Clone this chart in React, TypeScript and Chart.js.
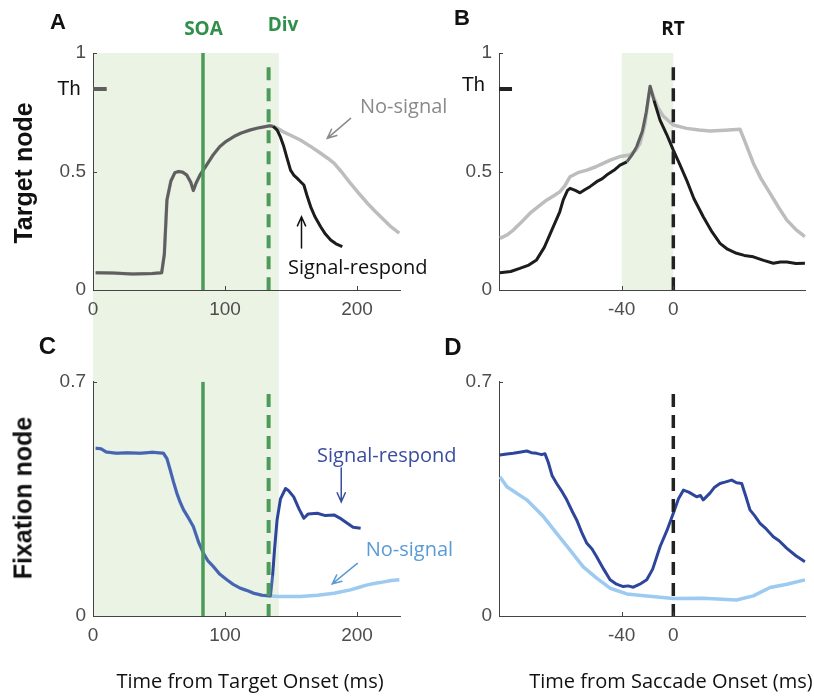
import React, { useEffect, useRef } from 'react';
import { Chart, registerables } from 'chart.js';

Chart.register(...registerables);

type Pt = [number, number];

// ---------- data ----------
// Panel A: target node, aligned on target onset (ms)
const aShared: Pt[] = [
  [2, 0.073], [15, 0.072], [30, 0.068], [45, 0.07], [52, 0.073], [54, 0.15], [56, 0.38], [59, 0.46],
  [62, 0.495], [65, 0.5], [68, 0.497], [71, 0.485], [74, 0.455], [76, 0.42], [78, 0.45], [81, 0.485],
  [86, 0.527], [91, 0.57], [96, 0.605], [101, 0.628], [106.5, 0.647], [112, 0.662], [119, 0.675],
  [126, 0.685], [131, 0.69], [134, 0.693], [136.5, 0.69],
];
const aSignalRespondAfter: Pt[] = [
  [139.5, 0.675], [142, 0.645], [144.5, 0.605], [147, 0.555], [149.6, 0.506], [152, 0.485], [154.7, 0.471],
  [157, 0.458], [159.7, 0.443], [162, 0.4], [164.8, 0.352], [168, 0.31], [172.4, 0.267], [176, 0.236],
  [180, 0.211], [184, 0.195], [188.8, 0.183],
];
const aNoSignalAfter: Pt[] = [
  [139.5, 0.683], [145, 0.665], [150, 0.652], [157, 0.633], [165, 0.605], [172.4, 0.577], [178, 0.555],
  [182.5, 0.535], [188, 0.5], [195, 0.45], [201, 0.41], [207.8, 0.366], [214, 0.33], [220.4, 0.295],
  [226, 0.265], [232, 0.24],
];
// Panel B: target node, aligned on saccade onset (ms)
const bNoSignal: Pt[] = [
  [-134.4, 0.218], [-129, 0.232], [-124, 0.253], [-118, 0.285], [-111, 0.324], [-104, 0.355], [-98, 0.38],
  [-92, 0.4], [-87.8, 0.415], [-84, 0.44], [-80, 0.478], [-74, 0.495], [-67, 0.506], [-60, 0.52],
  [-54, 0.535], [-48, 0.55], [-41.3, 0.563], [-33.6, 0.57], [-29, 0.59], [-25.8, 0.619], [-22, 0.7],
  [-18, 0.858], [-15, 0.81], [-12, 0.77], [-8, 0.735], [-4, 0.715], [0, 0.696], [10.3, 0.682], [20, 0.675],
  [28.4, 0.671], [40, 0.674], [51.7, 0.678], [56, 0.62], [62, 0.535], [68, 0.47], [75, 0.408], [82, 0.345],
  [88, 0.295], [95, 0.255], [102, 0.225],
];
const bSignalRespond: Pt[] = [
  [-134.4, 0.073], [-126, 0.078], [-119, 0.091], [-112, 0.105], [-106, 0.127], [-100, 0.18], [-93, 0.267],
  [-88, 0.33], [-85.3, 0.38], [-82, 0.42], [-80, 0.429], [-76, 0.42], [-72.3, 0.41], [-68, 0.425],
  [-64.6, 0.436], [-59.4, 0.457], [-55, 0.47], [-51.7, 0.485], [-46, 0.505], [-41.3, 0.527], [-36, 0.541],
  [-32, 0.57], [-28.4, 0.605], [-24, 0.67], [-21, 0.75], [-18, 0.86], [-15, 0.8], [-10.3, 0.717],
  [-5, 0.655], [0, 0.59], [5, 0.53], [10.3, 0.464], [16, 0.385], [23.2, 0.309], [30, 0.245], [36.2, 0.197],
  [42, 0.172], [49, 0.155], [55, 0.146], [62, 0.14], [70, 0.125], [77.5, 0.113], [83, 0.118], [88, 0.118],
  [95, 0.112], [102, 0.113],
];
// Panel C: fixation node, aligned on target onset (ms)
const cShared: Pt[] = [
  [2, 0.501], [6, 0.5], [10, 0.49], [18, 0.486], [26, 0.488], [35.7, 0.486], [45, 0.489], [53.4, 0.486],
  [56, 0.47], [58.5, 0.436], [61, 0.4], [63.5, 0.367], [66, 0.34], [68.6, 0.317], [72, 0.295], [76, 0.267],
  [80, 0.22], [83.7, 0.187], [87, 0.165], [91.3, 0.147], [96, 0.125], [101.5, 0.108], [106, 0.095],
  [111.6, 0.083], [116, 0.077], [121.7, 0.068], [128, 0.062], [134.4, 0.06],
];
const cSignalRespondAfter: Pt[] = [
  [136, 0.12], [137.5, 0.2], [139.4, 0.287], [142, 0.35], [145.8, 0.381], [148, 0.375], [152, 0.356],
  [156, 0.32], [159.7, 0.292], [163, 0.305], [169.8, 0.307], [176, 0.3], [182.5, 0.302], [188, 0.29],
  [192.6, 0.277], [197, 0.265], [202.7, 0.262],
];
const cNoSignalAfter: Pt[] = [
  [140, 0.058], [150, 0.058], [157, 0.058], [170, 0.062], [182.5, 0.068], [195, 0.078], [201, 0.085],
  [207.8, 0.093], [214, 0.098], [220.4, 0.102], [226, 0.106], [232, 0.108],
];
// Panel D: fixation node, aligned on saccade onset (ms)
const dSignalRespond: Pt[] = [
  [-134.4, 0.481], [-129, 0.484], [-124, 0.486], [-118, 0.49], [-113.6, 0.493], [-110, 0.488], [-106, 0.486],
  [-102, 0.482], [-99.5, 0.485], [-97, 0.46], [-94, 0.42], [-90.4, 0.396], [-86, 0.37], [-82.6, 0.347],
  [-78, 0.31], [-74.9, 0.287], [-71, 0.25], [-67, 0.217], [-63, 0.2], [-59.4, 0.177], [-54, 0.14],
  [-49, 0.108], [-44, 0.095], [-38.8, 0.088], [-35, 0.09], [-31, 0.086], [-26, 0.095], [-20.6, 0.108],
  [-16, 0.14], [-10.3, 0.207], [-5, 0.255], [0, 0.307], [4, 0.35], [7.8, 0.376], [12, 0.37], [18, 0.356],
  [21, 0.36], [23.2, 0.347], [28.4, 0.367], [32, 0.385], [36.2, 0.396], [40, 0.4], [45.2, 0.406],
  [49, 0.398], [53, 0.396], [56, 0.36], [59.4, 0.317], [63, 0.3], [67.2, 0.277], [72, 0.26], [77.5, 0.237],
  [82, 0.225], [88, 0.202], [95, 0.18], [102, 0.162],
];
const dNoSignal: Pt[] = [
  [-134.4, 0.416], [-129, 0.386], [-113.6, 0.347], [-100.7, 0.297], [-90.4, 0.247], [-80, 0.197],
  [-69.8, 0.147], [-59.4, 0.113], [-49, 0.083], [-36, 0.066], [-20.6, 0.06], [0, 0.052], [23.2, 0.053],
  [49, 0.048], [62, 0.06], [75, 0.085], [88, 0.095], [102, 0.108],
];

// events / markers
const TH = 0.848;
const SOA = 83.3;
const DIV = 133;
const RT = 0;
const shadeTarget: Pt = [0, 140.7];
const shadeSaccade: Pt = [-40, 0];
const sharedTarget: Pt = [0, 136.5];
const sharedSaccade: Pt = [-38, -13];
const thMarkTarget: Pt = [0, 10.4];
const thMarkSaccade: Pt = [-135.1, -125];
const divTopTarget = 0.94;
const divTopFix = 0.663;

// axes
const xRangeTarget: Pt = [0, 232.5];
const xRangeSaccade: Pt = [-135.1, 102.6];
const xTicksTarget = [0, 100, 200];
const xTicksSaccade = [-40, 0];
const yTicksTarget = [0, 0.5, 1];
const yTicksFix = [0, 0.7];

// ---------- styling ----------
const GREEN_LINE = '#4c9b58';
const GREEN_TEXT = '#2f8f4b';
const SHADE = '#ebf3e4';
const SR_BLACK = '#1c1c1c';
const NS_GRAY = '#bdbdbd';
const SHARED_GRAY = '#5f5f5f';
const SR_BLUE = '#2d469c';
const NS_BLUE = '#9ccaf0';
const SHARED_BLUE = '#4a63ad';
const AXIS = '#444444';
const TICK = '#4d4d4d';
const SANS = '"Liberation Sans", Arial, sans-serif';
const OPEN = '"Open Sans", "Noto Sans", sans-serif';

const xy = (pts: Pt[]) => pts.map(([x, y]) => ({ x, y }));

function line(pts: Pt[], color: string, width: number, extra: any = {}) {
  return {
    type: 'line',
    data: xy(pts),
    borderColor: color,
    borderWidth: width,
    pointRadius: 0,
    tension: 0,
    fill: false,
    borderJoinStyle: 'round',
    ...extra,
  };
}

function sharedSegment(range: Pt, color: string) {
  return {
    borderColor: (ctx: any) =>
      ctx.p0.parsed.x >= range[0] && ctx.p1.parsed.x <= range[1] ? color : undefined,
  };
}

type Arrow = { from: Pt; to: Pt; color: string };

type Spec = {
  left: number; top: number; width: number; height: number;
  padding: { left: number; right: number; top: number; bottom: number };
  xRange: Pt; yMax: number; xTicks: number[]; yTicks: number[];
  datasets: any[];
  shade?: Pt; shadeUp?: boolean; shadeDown?: boolean;
  arrows?: Arrow[];
};

function drawArrow(ctx: CanvasRenderingContext2D, x0: number, y0: number, x1: number, y1: number, color: string) {
  const ang = Math.atan2(y1 - y0, x1 - x0);
  const len = 10;
  const spread = 0.42;
  ctx.save();
  ctx.strokeStyle = color;
  ctx.lineWidth = 1.5;
  ctx.lineCap = 'round';
  ctx.beginPath();
  ctx.moveTo(x0, y0);
  ctx.lineTo(x1, y1);
  ctx.moveTo(x1 - len * Math.cos(ang - spread), y1 - len * Math.sin(ang - spread));
  ctx.lineTo(x1, y1);
  ctx.lineTo(x1 - len * Math.cos(ang + spread), y1 - len * Math.sin(ang + spread));
  ctx.stroke();
  ctx.restore();
}

function makeDeco(spec: Spec) {
  return {
    id: 'panelDeco',
    beforeDraw(chart: any) {
      const { ctx, chartArea } = chart;
      const x = chart.scales.x;
      if (spec.shade) {
        const xa = x.getPixelForValue(spec.shade[0]);
        const xb = x.getPixelForValue(spec.shade[1]);
        const top = spec.shadeUp ? 0 : chartArea.top;
        const bottom = spec.shadeDown ? chart.height : chartArea.bottom;
        ctx.save();
        ctx.fillStyle = SHADE;
        ctx.fillRect(xa, top, xb - xa, bottom - top);
        ctx.restore();
      }
    },
    afterDraw(chart: any) {
      const { ctx, chartArea } = chart;
      const x = chart.scales.x;
      const y = chart.scales.y;
      ctx.save();
      ctx.strokeStyle = AXIS;
      ctx.lineWidth = 1;
      ctx.beginPath();
      spec.yTicks.forEach((v) => {
        const py = Math.round(y.getPixelForValue(v)) + 0.5;
        ctx.moveTo(chartArea.left, py);
        ctx.lineTo(chartArea.left + 4, py);
      });
      spec.xTicks.forEach((v) => {
        const px = Math.round(x.getPixelForValue(v)) + 0.5;
        ctx.moveTo(px, chartArea.bottom);
        ctx.lineTo(px, chartArea.bottom - 4);
      });
      ctx.stroke();
      ctx.restore();
      (spec.arrows || []).forEach((a) => {
        drawArrow(
          ctx,
          x.getPixelForValue(a.from[0]), y.getPixelForValue(a.from[1]),
          x.getPixelForValue(a.to[0]), y.getPixelForValue(a.to[1]),
          a.color,
        );
      });
    },
  };
}

function makeConfig(spec: Spec): any {
  return {
    type: 'line',
    data: { datasets: spec.datasets },
    plugins: [makeDeco(spec)],
    options: {
      responsive: false,
      maintainAspectRatio: false,
      animation: false,
      events: [],
      layout: { padding: spec.padding },
      plugins: { legend: { display: false }, tooltip: { enabled: false } },
      scales: {
        x: {
          type: 'linear',
          min: spec.xRange[0],
          max: spec.xRange[1],
          grid: { display: false, drawTicks: false, tickLength: 0 },
          border: { display: true, color: AXIS, width: 1 },
          ticks: { font: { family: SANS, size: 19 }, color: TICK, padding: 8, maxRotation: 0, autoSkip: false },
          afterBuildTicks: (s: any) => { s.ticks = spec.xTicks.map((v) => ({ value: v })); },
          afterFit: (s: any) => { s.height = 30; },
        },
        y: {
          type: 'linear',
          min: 0,
          max: spec.yMax,
          grid: { display: false, drawTicks: false, tickLength: 0 },
          border: { display: true, color: AXIS, width: 1 },
          ticks: {
            font: { family: SANS, size: 19 },
            color: TICK,
            padding: 7,
            autoSkip: false,
            callback: (v: any) => String(v),
          },
          afterBuildTicks: (s: any) => { s.ticks = spec.yTicks.map((v) => ({ value: v })); },
          afterFit: (s: any) => { s.width = 40; },
        },
      },
    },
  };
}

const specs: Spec[] = [
  {
    left: 0, top: 0, width: 420, height: 320,
    padding: { left: 53, right: 20, top: 53, bottom: 0 },
    xRange: xRangeTarget, yMax: 1, xTicks: xTicksTarget, yTicks: yTicksTarget,
    shade: shadeTarget, shadeDown: true,
    arrows: [
      { from: [195.1, 0.724], to: [177.4, 0.64], color: '#8a8a8a' },
      { from: [157.9, 0.177], to: [157.9, 0.309], color: '#111111' },
    ],
    datasets: [
      line([[SOA, 0], [SOA, 1]], GREEN_LINE, 3.5),
      line([[DIV, divTopTarget], [DIV, 0]], GREEN_LINE, 4, { borderDash: [13, 8] }),
      line([[thMarkTarget[0], TH], [thMarkTarget[1], TH]], SHARED_GRAY, 4),
      line([...aShared, ...aSignalRespondAfter], SR_BLACK, 3, { segment: sharedSegment(sharedTarget, SHARED_GRAY) }),
      line([...aShared, ...aNoSignalAfter], NS_GRAY, 3.5),
    ],
  },
  {
    left: 420, top: 0, width: 394, height: 320,
    padding: { left: 39, right: 8.3, top: 53, bottom: 0 },
    xRange: xRangeSaccade, yMax: 1, xTicks: xTicksSaccade, yTicks: yTicksTarget,
    shade: shadeSaccade,
    datasets: [
      line([[RT, divTopTarget], [RT, 0]], '#222222', 3.5, { borderDash: [13, 8] }),
      line([[thMarkSaccade[0], TH], [thMarkSaccade[1], TH]], '#222222', 4),
      line(bSignalRespond, SR_BLACK, 3, { segment: sharedSegment(sharedSaccade, SHARED_GRAY) }),
      line(bNoSignal, NS_GRAY, 3.5),
    ],
  },
  {
    left: 0, top: 320, width: 420, height: 376,
    padding: { left: 53, right: 20, top: 61.7, bottom: 50 },
    xRange: xRangeTarget, yMax: 0.7, xTicks: xTicksTarget, yTicks: yTicksFix,
    shade: shadeTarget, shadeUp: true,
    arrows: [
      { from: [188, 0.442], to: [188, 0.341], color: '#3a4ea0' },
      { from: [200.2, 0.157], to: [181.2, 0.096], color: '#5b9bd5' },
    ],
    datasets: [
      line([[SOA, 0], [SOA, 0.7]], GREEN_LINE, 3.5),
      line([[DIV, divTopFix], [DIV, 0]], GREEN_LINE, 4, { borderDash: [13, 8] }),
      line([...cShared, ...cSignalRespondAfter], SR_BLUE, 3, { segment: sharedSegment(sharedTarget, SHARED_BLUE) }),
      line([...cShared, ...cNoSignalAfter], NS_BLUE, 3.5),
    ],
  },
  {
    left: 420, top: 320, width: 394, height: 376,
    padding: { left: 39, right: 8.3, top: 61.7, bottom: 50 },
    xRange: xRangeSaccade, yMax: 0.7, xTicks: xTicksSaccade, yTicks: yTicksFix,
    datasets: [
      line([[RT, divTopFix], [RT, 0]], '#222222', 3.5, { borderDash: [13, 8] }),
      line(dSignalRespond, SR_BLUE, 3),
      line(dNoSignal, NS_BLUE, 3.5),
    ],
  },
];

function Panel({ spec }: { spec: Spec }) {
  const ref = useRef<HTMLCanvasElement>(null);
  useEffect(() => {
    if (!ref.current) return;
    const chart = new Chart(ref.current, makeConfig(spec));
    return () => chart.destroy();
  }, [spec]);
  return (
    <canvas
      ref={ref}
      width={spec.width}
      height={spec.height}
      style={{ position: 'absolute', left: spec.left, top: spec.top, width: spec.width, height: spec.height }}
    />
  );
}

function Txt(props: {
  x: number; y: number; text: string; size: number; color?: string; weight?: number;
  family?: string; anchor?: 'left' | 'center'; rotate?: number;
}) {
  const { x, y, text, size, color = '#111111', weight = 400, family = OPEN, anchor = 'center', rotate = 0 } = props;
  return (
    <div
      style={{
        position: 'absolute', left: x, top: y, whiteSpace: 'nowrap', lineHeight: 1,
        fontSize: size, fontWeight: weight, fontFamily: family, color,
        transform: `translate(${anchor === 'left' ? '0' : '-50%'}, -50%) rotate(${rotate}deg)`,
      }}
    >
      {text}
    </div>
  );
}

export default function App() {
  return (
    <div style={{ position: 'absolute', left: 0, top: 0, width: 814, height: 696, background: '#ffffff', overflow: 'hidden' }}>
      {specs.map((s, i) => <Panel key={i} spec={s} />)}
      <Txt x={58} y={22} text="A" size={22} weight={700} family={SANS} />
      <Txt x={462} y={18} text="B" size={22} weight={700} family={SANS} />
      <Txt x={47.5} y={346} text="C" size={24} weight={700} family={SANS} />
      <Txt x={453} y={346.5} text="D" size={24} weight={700} family={SANS} />
      <Txt x={203.5} y={28} text="SOA" size={19} weight={700} color={GREEN_TEXT} />
      <Txt x={283} y={24} text="Div" size={19} weight={700} color={GREEN_TEXT} />
      <Txt x={673} y={28} text="RT" size={19} weight={700} />
      <Txt x={69} y={87.5} text="Th" size={20} family={SANS} />
      <Txt x={473.3} y={84} text="Th" size={20} family={SANS} />
      <Txt x={23} y={172.5} text="Target node" size={25} weight={700} family={SANS} rotate={-90} />
      <Txt x={23} y={498} text="Fixation node" size={25} weight={700} family={SANS} rotate={-90} />
      <Txt x={360} y={106} text="No-signal" size={20} color="#8a8a8a" anchor="left" />
      <Txt x={288} y={267} text="Signal-respond" size={20} anchor="left" />
      <Txt x={317} y={455} text="Signal-respond" size={20} color="#3a4ea0" anchor="left" />
      <Txt x={365.7} y={549} text="No-signal" size={20} color="#5b9bd5" anchor="left" />
      <Txt x={250} y={681} text="Time from Target Onset (ms)" size={20} />
      <Txt x={671} y={681} text="Time from Saccade Onset (ms)" size={20} />
    </div>
  );
}
